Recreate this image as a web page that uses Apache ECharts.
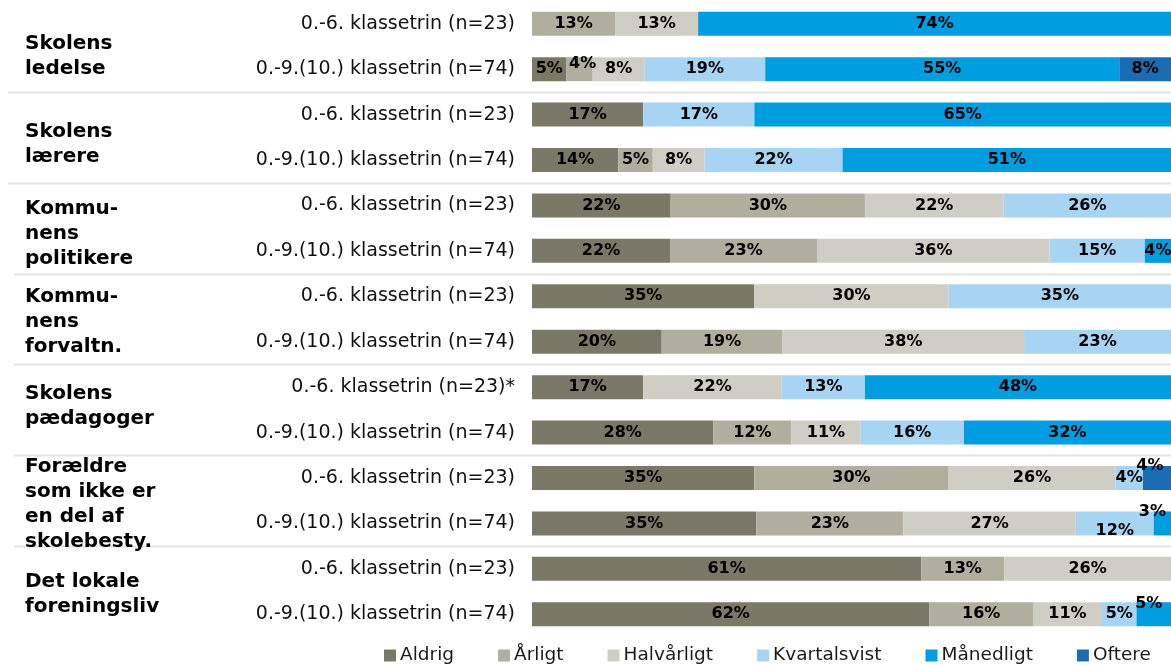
<!DOCTYPE html>
<html>
<head>
<meta charset="utf-8">
<script src="https://cdn.jsdelivr.net/npm/echarts@6/dist/echarts.min.js"></script>
<style>
  html, body { margin: 0; padding: 0; background: #ffffff; }
  #chart { width: 1171px; height: 665px; }
</style>
</head>
<body>
<div id="chart"></div>
<script>
// ---- data ----
const categories = [
  '0.-6. klassetrin (n=23)', '0.-9.(10.) klassetrin (n=74)',
  '0.-6. klassetrin (n=23)', '0.-9.(10.) klassetrin (n=74)',
  '0.-6. klassetrin (n=23)', '0.-9.(10.) klassetrin (n=74)',
  '0.-6. klassetrin (n=23)', '0.-9.(10.) klassetrin (n=74)',
  '0.-6. klassetrin (n=23)*', '0.-9.(10.) klassetrin (n=74)',
  '0.-6. klassetrin (n=23)', '0.-9.(10.) klassetrin (n=74)',
  '0.-6. klassetrin (n=23)', '0.-9.(10.) klassetrin (n=74)'
];
const groups = [
  'Skolens\nledelse',
  'Skolens\nlærere',
  'Kommu-\nnens\npolitikere',
  'Kommu-\nnens\nforvaltn.',
  'Skolens\npædagoger',
  'Forældre\nsom ikke er\nen del af\nskolebesty.',
  'Det lokale\nforeningsliv'
];
const seriesNames = ['Aldrig', 'Årligt', 'Halvårligt', 'Kvartalsvist', 'Månedligt', 'Oftere'];
const aldrig       = [0,    5.4, 17.4, 13.5, 21.7, 21.6, 34.8, 20.3, 17.4, 28.4, 34.8, 35.1, 60.9, 62.2];
const aarligt      = [13.0, 4.1, 0,    5.4,  30.4, 23.0, 0,    18.9, 0,    12.2, 30.4, 23.0, 13.0, 16.2];
const halvaarligt  = [13.0, 8.1, 0,    8.1,  21.7, 36.4, 30.4, 37.8, 21.7, 10.8, 26.1, 27.0, 26.1, 10.8];
const kvartalsvist = [0,   18.9, 17.4, 21.6, 26.2, 14.9, 34.8, 23.0, 13.0, 16.2, 4.3,  12.2, 0,    5.4];
const maanedligt   = [74.0, 55.4, 65.2, 51.4, 0,   4.1,  0,    0,    47.9, 32.4, 0,    2.7,  0,    5.4];
const oftere       = [0,    8.1, 0,    0,    0,    0,    0,    0,    0,    0,    4.4,  0,    0,    0];
const seriesValues = [aldrig, aarligt, halvaarligt, kvartalsvist, maanedligt, oftere];

// ---- styles ----
const colors = ['#7a7866', '#b0ae9f', '#cfcec4', '#a8d4f3', '#009ee0', '#1b6db3'];
// label nudges for crowded small segments: "series|row" -> [dx, dy]
const labelNudges = {
  'Årligt|1': [3, -5],
  'Oftere|10': [-7, -12],
  'Kvartalsvist|11': [0, 7],
  'Månedligt|11': [-10, -12],
  'Månedligt|13': [-5, -10]
};
// vertical nudge of each group title (px, positive = down)
const groupShift = [10, 7, 6, 3, -4, 4, 3];
const FONT = '"DejaVu Sans", Verdana, sans-serif';

const series = seriesNames.map((name, si) => ({
  name: name,
  type: 'bar',
  stack: 'total',
  barWidth: 24,
  itemStyle: { color: colors[si] },
  label: {
    show: true,
    position: 'inside',
    color: '#000',
    fontFamily: FONT,
    fontWeight: 'bold',
    fontSize: 16,
    formatter: p => (p.value > 0 ? Math.round(p.value) + '%' : '')
  },
  emphasis: { disabled: true },
  data: seriesValues[si].map((v, ri) => {
    const nudge = labelNudges[name + '|' + ri];
    return nudge ? { value: v, label: { offset: nudge } } : v;
  })
}));

const chart = echarts.init(document.getElementById('chart'), null, { renderer: 'canvas' });
chart.setOption({
  animation: false,
  backgroundColor: '#ffffff',
  grid: { left: 532, right: -5, top: 1, height: 636, containLabel: false },
  xAxis: { type: 'value', min: 0, max: 100, show: false },
  yAxis: {
    type: 'category', inverse: true, data: categories,
    axisLine: { show: false }, axisTick: { show: false }, splitLine: { show: false },
    axisLabel: { color: '#111', fontFamily: FONT, fontSize: 19, margin: 17 }
  },
  legend: {
    data: seriesNames,
    left: 384, top: 646, padding: 0,
    itemWidth: 12, itemHeight: 12, itemGap: 44,
    icon: 'rect',
    textStyle: { color: '#1a1a1a', fontFamily: FONT, fontSize: 18.5, padding: [0, 0, 0, -1] }
  },
  series: series
});

// group separators and group titles, positioned from the category axis
const rowY = i => chart.convertToPixel({ yAxisIndex: 0 }, i);
const lines = [];
const titles = [];
for (let g = 0; g < groups.length; g++) {
  if (g < groups.length - 1) {
    const y = Math.round((rowY(2 * g + 1) + rowY(2 * g + 2)) / 2) + 0.5;
    lines.push({
      type: 'line', silent: true, z: 1,
      shape: { x1: g < 2 ? 8 : 14, y1: y, x2: 1171, y2: y },
      style: { stroke: '#e3e3e3', lineWidth: 2 }
    });
  }
  const yc = (rowY(2 * g) + rowY(2 * g + 1)) / 2;
  titles.push({
    type: 'text', silent: true, z: 2,
    x: 25, y: yc + groupShift[g],
    style: {
      text: groups[g], fill: '#000', font: 'bold 20px ' + FONT,
      lineHeight: 25, verticalAlign: 'middle', align: 'left'
    }
  });
}
chart.setOption({ graphic: lines.concat(titles) });
</script>
</body>
</html>
